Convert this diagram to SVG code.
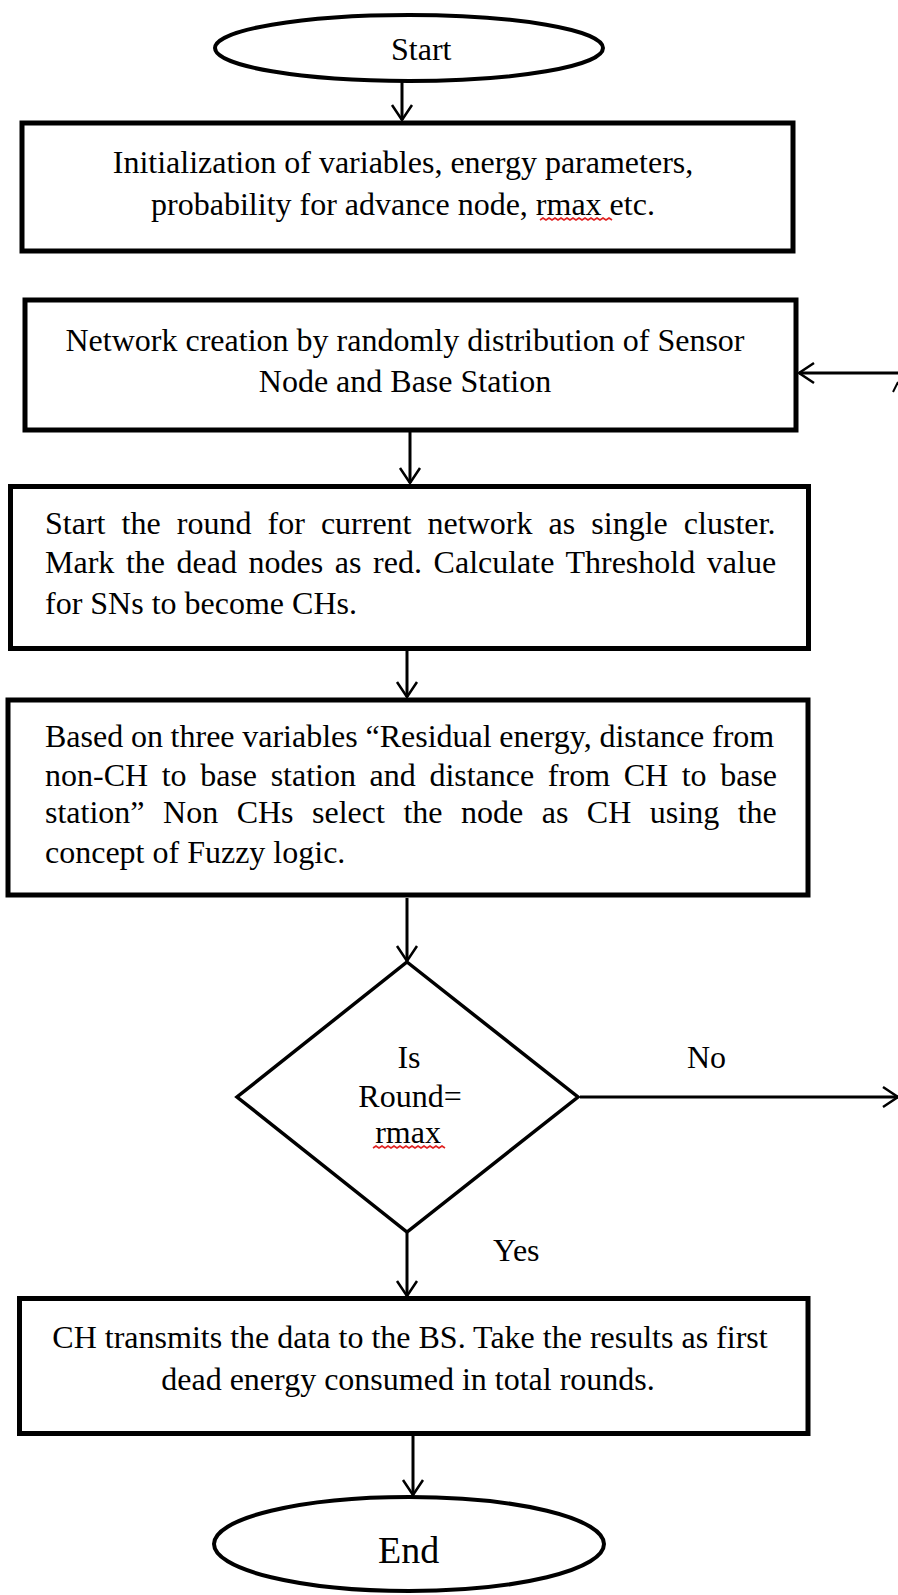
<svg xmlns="http://www.w3.org/2000/svg" width="898" height="1595" viewBox="0 0 898 1595">
<style>
  .box { fill: #ffffff; stroke: #000000; stroke-width: 5; }
  .term { fill: #ffffff; stroke: #000000; stroke-width: 4; }
  .dec { fill: #ffffff; stroke: #000000; stroke-width: 3.5; }
  .t { font-family: "Liberation Serif", "Times New Roman", serif; font-size: 32px; fill: #000000; }
  .c { text-anchor: middle; }
  .conn { stroke: #000000; stroke-width: 3; fill: none; }
  .sq { stroke: #e02020; stroke-width: 1.6; fill: none; }
</style>
<defs>
  <marker id="arr" markerUnits="userSpaceOnUse" markerWidth="20" markerHeight="24" viewBox="-17 -12 20 24" refX="0" refY="0" orient="auto">
    <path d="M-15,-10 L0,0 L-15,10" fill="none" stroke="#000000" stroke-width="2.5"/>
  </marker>
</defs>

<g id="connectors">
  <line class="conn" x1="402" y1="82" x2="402" y2="120" marker-end="url(#arr)"/>
  <line class="conn" x1="898" y1="373" x2="799" y2="373" marker-end="url(#arr)"/>
  <line class="conn" x1="410" y1="432" x2="410" y2="483" marker-end="url(#arr)"/>
  <line class="conn" x1="407" y1="651" x2="407" y2="697" marker-end="url(#arr)"/>
  <line class="conn" x1="407" y1="898" x2="407" y2="961" marker-end="url(#arr)"/>
  <line class="conn" x1="580" y1="1097" x2="898" y2="1097" marker-end="url(#arr)"/>
  <line class="conn" x1="407" y1="1233" x2="407" y2="1296" marker-end="url(#arr)"/>
  <line class="conn" x1="413" y1="1436" x2="413" y2="1495" marker-end="url(#arr)"/>
  <line x1="893" y1="392" x2="898" y2="382" stroke="#000000" stroke-width="2"/>
</g>

<g id="start">
  <ellipse class="term" cx="409" cy="48" rx="194" ry="33"/>
  <text class="t" x="391" y="60">Start</text>
</g>

<g id="init">
  <rect class="box" x="22" y="123" width="771" height="128"/>
  <text class="t c" x="403" y="173">Initialization of variables, energy parameters,</text>
  <text class="t c" x="403" y="215">probability for advance node, rmax etc.</text>
  <path class="sq" d="M540,220 l3,-2 l3,2 l3,-2 l3,2 l3,-2 l3,2 l3,-2 l3,2 l3,-2 l3,2 l3,-2 l3,2 l3,-2 l3,2 l3,-2 l3,2 l3,-2 l3,2 l3,-2 l3,2 l3,-2 l3,2 l3,-2 l3,2"/>
</g>

<g id="network">
  <rect class="box" x="25" y="300" width="771" height="130"/>
  <text class="t c" x="405" y="351">Network creation by randomly distribution of Sensor</text>
  <text class="t c" x="405" y="392">Node and Base Station</text>
</g>

<g id="round">
  <rect class="box" x="10.5" y="486.5" width="798" height="162"/>
  <text class="t" x="45" y="534" word-spacing="8.1">Start the round for current network as single cluster.</text>
  <text class="t" x="45" y="573" word-spacing="3.6">Mark the dead nodes as red. Calculate Threshold value</text>
  <text class="t" x="45" y="614">for SNs to become CHs.</text>
</g>

<g id="fuzzy">
  <rect class="box" x="8" y="700" width="800" height="195"/>
  <text class="t" x="45" y="747" word-spacing="-0.3">Based on three variables “Residual energy, distance from</text>
  <text class="t" x="45" y="786" word-spacing="5.6">non-CH to base station and distance from CH to base</text>
  <text class="t" x="45" y="823" word-spacing="10.5">station” Non CHs select the node as CH using the</text>
  <text class="t" x="45" y="863">concept of Fuzzy logic.</text>
</g>

<g id="decision">
  <polygon class="dec" points="407,962 578,1097 407,1232 237,1097"/>
  <text class="t c" x="409" y="1068">Is</text>
  <text class="t c" x="410" y="1107">Round=</text>
  <text class="t c" x="408" y="1143">rmax</text>
  <path class="sq" d="M373,1148 l3,-2 l3,2 l3,-2 l3,2 l3,-2 l3,2 l3,-2 l3,2 l3,-2 l3,2 l3,-2 l3,2 l3,-2 l3,2 l3,-2 l3,2 l3,-2 l3,2 l3,-2 l3,2 l3,-2 l3,2 l3,-2 l3,2"/>
</g>

<g id="labels">
  <text class="t" x="687" y="1068">No</text>
  <text class="t" x="493" y="1261">Yes</text>
</g>

<g id="transmit">
  <rect class="box" x="19.5" y="1298.5" width="788.5" height="135"/>
  <text class="t c" x="410" y="1348">CH transmits the data to the BS. Take the results as first</text>
  <text class="t c" x="408" y="1390">dead energy consumed in total rounds.</text>
</g>

<g id="end">
  <ellipse class="term" cx="409" cy="1544" rx="195" ry="47"/>
  <text class="t" x="378" y="1563" style="font-size:38px">End</text>
</g>
</svg>
